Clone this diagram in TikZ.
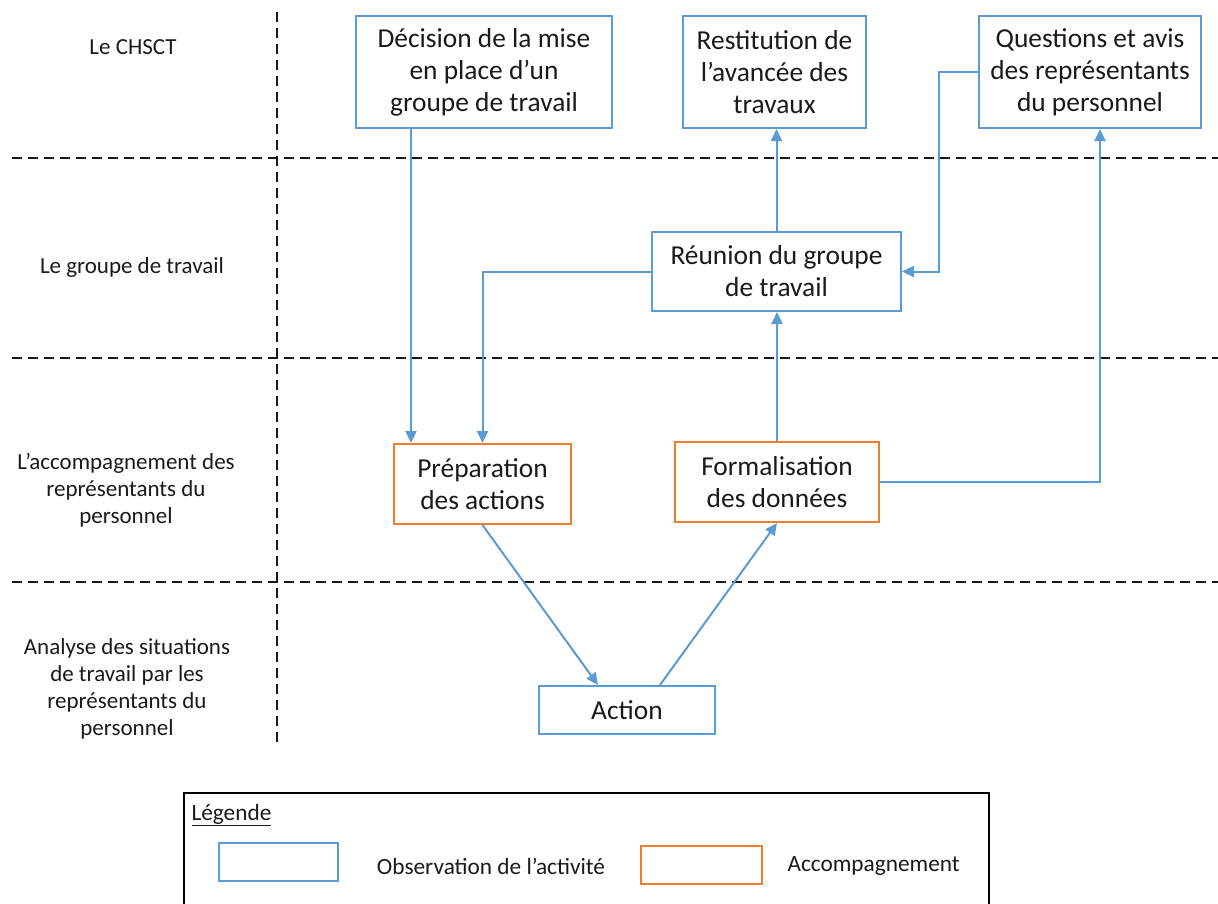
\documentclass[tikz,border=0pt]{standalone}
\usepackage{fontspec}
\setmainfont{Carlito}
\usetikzlibrary{arrows.meta,calc}
\definecolor{bblue}{HTML}{5B9BD5}
\definecolor{borange}{HTML}{ED7D31}
\definecolor{txt}{HTML}{1A1A1A}
\tikzset{
  bluebox/.style={draw=bblue,line width=2pt,rectangle,inner sep=0pt,align=center,text=txt,font=\fontsize{27.4}{32}\selectfont},
  orangebox/.style={draw=borange,line width=2pt,rectangle,inner sep=0pt,align=center,text=txt,font=\fontsize{27.4}{32}\selectfont},
  lanelabel/.style={align=center,text=txt,font=\fontsize{23}{27}\selectfont},
  legtext/.style={text=txt,font=\fontsize{23.3}{26}\selectfont},
  sep/.style={draw=black!90,line width=2pt,dash pattern=on 10pt off 6pt},
  conn/.style={draw=bblue,line width=2pt,-{Triangle[length=12pt,width=11pt]}},
}
\begin{document}
\begin{tikzpicture}[x=1pt,y=-1pt]
\useasboundingbox (0,0) rectangle (1218,903);
% separators
\draw[sep] (277,12) -- (277,745);
\draw[sep] (12,158) -- (1218,158);
\draw[sep] (12,358) -- (1218,358);
\draw[sep] (12,582) -- (1218,582);
% lane labels
\node[lanelabel] (l1) at (133,47) {Le CHSCT};
\node[lanelabel] (l2) at (132,267) {Le groupe de travail};
\node[lanelabel] (l3) at (126,490) {L’accompagnement des\\représentants du\\personnel};
\node[lanelabel] (l4) at (127,689) {Analyse des situations\\de travail par les\\représentants du\\personnel};
% boxes
\node[bluebox,minimum width=256pt,minimum height=112pt] (dec) at (484,72) {Décision de la mise\\en place d’un\\groupe de travail};
\node[bluebox,minimum width=183pt,minimum height=112pt] (rest) at (774.5,72) {Restitution de\\l’avancée des\\travaux};
\node[bluebox,minimum width=222pt,minimum height=112pt] (ques) at (1090,72) {Questions et avis\\des représentants\\du personnel};
\node[bluebox,minimum width=249pt,minimum height=79pt] (reu) at (776.5,271.5) {Réunion du groupe\\de travail};
\node[orangebox,minimum width=177pt,minimum height=80pt] (prep) at (482.5,484) {Préparation\\des actions};
\node[orangebox,minimum width=204pt,minimum height=80pt] (form) at (777,482) {Formalisation\\des données};
\node[bluebox,minimum width=176pt,minimum height=48pt] (act) at (627,710) {Action};
% connectors
\draw[conn] ([xshift=-73pt]dec.south) -- ([xshift=-73pt]dec.south |- prep.north);
\draw[conn] (reu.west) -| (prep.north);
\draw[conn] (reu.north) -- (reu.north |- rest.south);
\draw[conn] (form.north) -- (form.north |- reu.south);
\draw[conn] (ques.west) -- ++(-39,0) |- (reu.east);
\draw[conn] (form.east) -| ([xshift=10pt]ques.south);
\draw[conn] (prep.south) -- ([xshift=-29pt]act.north);
\draw[conn] ([xshift=33pt]act.north) -- (form.south);
% legend
\draw[line width=2pt,black] (184,793) rectangle (989,915);
\node[anchor=west,legtext] (leg) at (188,815) {\underline{Légende}};
\node[draw=bblue,line width=2pt,minimum width=119pt,minimum height=38pt,inner sep=0pt] (lb) at (278.5,862) {};
\node[legtext] (lbt) at (491,866) {Observation de l’activité};
\node[draw=borange,line width=2pt,minimum width=121pt,minimum height=38pt,inner sep=0pt] (lo) at (701.5,865) {};
\node[anchor=west,legtext] (lot) at (784,866) {Accompagnement};
\end{tikzpicture}
\end{document}
